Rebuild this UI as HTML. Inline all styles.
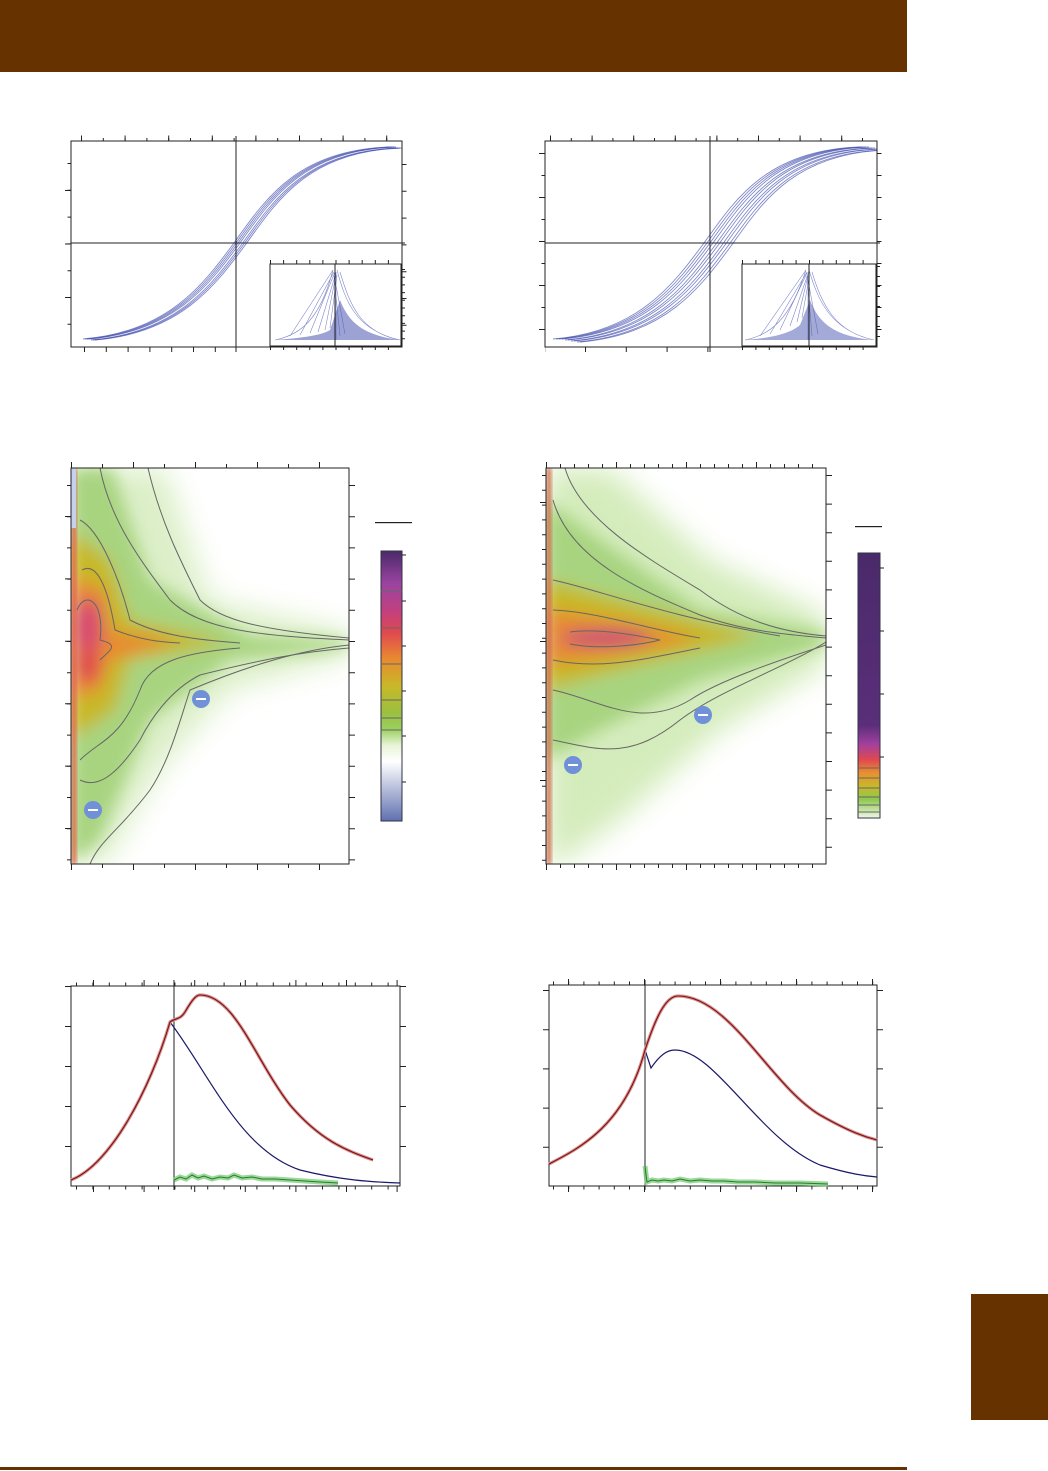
<!DOCTYPE html>
<html><head><meta charset="utf-8"><style>
html,body{margin:0;padding:0;background:#fff}
svg{display:block}
</style></head><body>
<svg width="1048" height="1471" viewBox="0 0 1048 1471" xmlns="http://www.w3.org/2000/svg">
<defs>
<filter id="b8" x="-50%" y="-50%" width="200%" height="200%"><feGaussianBlur stdDeviation="8"/></filter>
<filter id="b3" x="-50%" y="-50%" width="200%" height="200%"><feGaussianBlur stdDeviation="2"/></filter>
<filter id="b14" x="-50%" y="-50%" width="200%" height="200%"><feGaussianBlur stdDeviation="14"/></filter>
<linearGradient id="cb1" x1="0" y1="0" x2="0" y2="1">
<stop offset="0" stop-color="#4a2a6a"/><stop offset="0.12" stop-color="#9a44a0"/><stop offset="0.22" stop-color="#c04080"/><stop offset="0.3" stop-color="#e04850"/><stop offset="0.4" stop-color="#e88a30"/><stop offset="0.5" stop-color="#c8b828"/><stop offset="0.6" stop-color="#9ac040"/><stop offset="0.66" stop-color="#9ad060"/><stop offset="0.72" stop-color="#e8f4d8"/><stop offset="0.78" stop-color="#ffffff"/><stop offset="1" stop-color="#6070b0"/></linearGradient>
<linearGradient id="cb2" x1="0" y1="0" x2="0" y2="1">
<stop offset="0" stop-color="#4a2a6a"/><stop offset="0.65" stop-color="#5a2e7a"/><stop offset="0.72" stop-color="#a040a0"/><stop offset="0.78" stop-color="#e04850"/><stop offset="0.83" stop-color="#e89030"/><stop offset="0.88" stop-color="#c8b828"/><stop offset="0.93" stop-color="#90c850"/><stop offset="1" stop-color="#eef6e4"/></linearGradient>
<clipPath id="h1"><rect x="71" y="468" width="278" height="396"/></clipPath>
<clipPath id="h2"><rect x="546" y="468" width="280" height="396"/></clipPath>
<clipPath id="t1"><rect x="71" y="141" width="331" height="206"/></clipPath>
<clipPath id="t2"><rect x="545" y="141" width="332" height="206"/></clipPath>
<clipPath id="i1"><rect x="270" y="264" width="131" height="82"/></clipPath>
<clipPath id="i2"><rect x="742" y="264" width="134" height="82"/></clipPath>
<path id="sig" d="M85,339 C170,332 205,285 236,243 C268,198 300,150 392,147" fill="none" stroke="#4a55b0" stroke-width="0.9" stroke-opacity="0.7"/>
</defs>
<rect x="0" y="0" width="907" height="72" fill="#663300"/>
<rect x="971" y="1294" width="77" height="126" fill="#663300"/>
<rect x="0" y="1467" width="907" height="3" fill="#663300"/>

<!-- ===== top left ===== -->
<g clip-path="url(#t1)">
<use href="#sig"/><use href="#sig" transform="translate(2,0)"/><use href="#sig" transform="translate(4,0)"/><use href="#sig" transform="translate(6,1)"/><use href="#sig" transform="translate(8,1)"/><use href="#sig" transform="translate(10,1)"/><use href="#sig" transform="translate(-2,0)"/>
</g>
<rect x="71" y="141" width="331" height="206" fill="none" stroke="#222"/>
<line x1="236" y1="136" x2="236" y2="352" stroke="#222"/>
<line x1="71" y1="243" x2="405" y2="243" stroke="#222"/>
<g stroke="#222" fill="none">
<line x1="71" y1="138" x2="402" y2="138" stroke-width="5" stroke-dasharray="1 42.6" stroke-dashoffset="-10"/>
<line x1="71" y1="139.5" x2="402" y2="139.5" stroke-width="3" stroke-dasharray="1 20.8" stroke-dashoffset="-10"/>
<line x1="71" y1="349.5" x2="236" y2="349.5" stroke-width="5" stroke-dasharray="1 20.8" stroke-dashoffset="-13"/>
<line x1="68" y1="141" x2="68" y2="347" stroke-width="6" stroke-dasharray="1 52.5" stroke-dashoffset="-49"/>
<line x1="69" y1="141" x2="69" y2="347" stroke-width="3" stroke-dasharray="1 25.8" stroke-dashoffset="-22"/>
<line x1="404" y1="141" x2="404" y2="347" stroke-width="5" stroke-dasharray="1 25.8" stroke-dashoffset="-23"/>
</g>
<rect x="270" y="264" width="131" height="82" fill="#fff" stroke="#222"/>
<g clip-path="url(#i1)" stroke="#4a55b0" fill="none" stroke-width="0.6" stroke-opacity="0.7">
<path d="M275,340 C300,338 320,336 330,330 L340,300 C348,320 360,335 400,340Z" fill="#4a55b0" fill-opacity="0.55" stroke="none"/>
<path d="M333,270 L290,336 M334,272 L300,335 M335,272 L310,333 M336,273 L318,332 M336,275 L325,330 M337,275 L330,328 M337,270 C345,300 355,330 400,340 M340,272 C350,305 360,332 400,340 M275,340 C300,335 320,320 333,270"/>
<path d="M336,272 L336,340 M334,276 L340,336 M335,280 L345,334"/>
</g>
<line x1="335" y1="264" x2="335" y2="346" stroke="#222"/>
<g stroke="#222">
<line x1="270" y1="262" x2="401" y2="262" stroke-width="4" stroke-dasharray="1 12.1"/>
<line x1="270" y1="348" x2="401" y2="348" stroke-width="4" stroke-dasharray="1 12.1"/>
<line x1="403" y1="264" x2="403" y2="346" stroke-width="4" stroke-dasharray="1 6.7" stroke-dashoffset="-5"/>
</g>

<!-- ===== top right ===== -->
<g clip-path="url(#t2)"><g transform="translate(474,0)">
<use href="#sig"/><use href="#sig" transform="translate(3,0)"/><use href="#sig" transform="translate(6,1)"/><use href="#sig" transform="translate(9,1)"/><use href="#sig" transform="translate(12,2)"/><use href="#sig" transform="translate(15,2)"/><use href="#sig" transform="translate(18,3)"/><use href="#sig" transform="translate(21,3)"/><use href="#sig" transform="translate(-3,0)"/><use href="#sig" transform="translate(-6,0)"/>
</g></g>
<rect x="545" y="141" width="332" height="206" fill="none" stroke="#222"/>
<line x1="710" y1="136" x2="710" y2="352" stroke="#222"/>
<line x1="545" y1="243" x2="880" y2="243" stroke="#222"/>
<g stroke="#222" fill="none">
<line x1="545" y1="138" x2="877" y2="138" stroke-width="5" stroke-dasharray="1 40.6" stroke-dashoffset="-5"/>
<line x1="545" y1="139.5" x2="877" y2="139.5" stroke-width="3" stroke-dasharray="1 19.8" stroke-dashoffset="-5"/>
<line x1="545" y1="349.5" x2="710" y2="349.5" stroke-width="5" stroke-dasharray="1 39.8" stroke-dashoffset="-40"/>
<line x1="542" y1="141" x2="542" y2="347" stroke-width="6" stroke-dasharray="1 43" stroke-dashoffset="-12"/>
<line x1="543" y1="141" x2="543" y2="347" stroke-width="3" stroke-dasharray="1 21" stroke-dashoffset="-12"/>
<line x1="879" y1="141" x2="879" y2="347" stroke-width="5" stroke-dasharray="1 21" stroke-dashoffset="-12"/>
</g>
<rect x="742" y="264" width="134" height="82" fill="#fff" stroke="#222"/>
<g clip-path="url(#i2)" stroke="#4a55b0" fill="none" stroke-width="0.6" stroke-opacity="0.7">
<path d="M745,340 C770,338 790,334 800,325 L810,300 C818,320 830,336 874,340Z" fill="#4a55b0" fill-opacity="0.5" stroke="none"/>
<path d="M806,270 L760,336 M807,272 L770,334 M807,273 L780,330 M808,274 L790,326 M808,276 L797,322 M809,278 L802,318 M809,270 C818,300 830,330 874,340 M812,272 C822,305 835,332 874,340 M745,340 C770,335 790,320 806,270"/>
<path d="M808,272 L808,340 M807,276 L812,336 M808,280 L818,334"/>
</g>
<line x1="809" y1="264" x2="809" y2="346" stroke="#222"/>
<g stroke="#222">
<line x1="742" y1="262" x2="876" y2="262" stroke-width="4" stroke-dasharray="1 12.4"/>
<line x1="742" y1="348" x2="876" y2="348" stroke-width="4" stroke-dasharray="1 12.4"/>
<line x1="878" y1="264" x2="878" y2="346" stroke-width="4" stroke-dasharray="1 9" stroke-dashoffset="-2"/>
</g>

<!-- ===== heatmap left ===== -->
<g clip-path="url(#h1)">
<rect x="71" y="468" width="278" height="396" fill="#fff"/>
<g filter="url(#b14)">
<path d="M71,468 L165,468 L210,600 L349,632 L349,656 L230,690 L160,770 L105,864 L71,864Z" fill="#dcefc8"/>
</g>
<g filter="url(#b8)">
<path d="M71,468 L112,468 L150,580 L250,636 L349,640 L349,648 L230,660 L150,720 L100,840 L71,864Z" fill="#a8d480"/>
<path d="M71,530 L110,560 L130,620 L230,642 L130,660 L115,710 L71,740Z" fill="#c8b828"/>
<path d="M71,575 L105,590 L110,630 L180,642 L110,660 L100,690 L71,700Z" fill="#e88a30"/>
<ellipse cx="88" cy="628" rx="14" ry="30" fill="#d84a70"/>
<ellipse cx="88" cy="665" rx="12" ry="18" fill="#e04850"/>
</g>
<rect x="72" y="468" width="4" height="396" fill="#e05a40" filter="url(#b3)"/>
<rect x="71" y="468" width="5" height="60" fill="#c8d0f0"/>
<g fill="none" stroke="#666" stroke-width="1">
<path d="M148,468 C160,520 180,560 200,600 C220,620 260,630 349,638"/>
<path d="M100,468 C110,520 140,560 170,600 C200,630 260,636 349,640"/>
<path d="M80,520 C100,530 120,580 130,620 C160,636 200,640 240,643"/>
<path d="M82,570 C100,560 110,600 115,630 C140,640 160,642 180,643"/>
<path d="M77,610 C85,590 105,600 100,640 C120,645 110,650 100,660"/>
<path d="M349,648 C300,652 260,660 200,675 C170,690 150,720 140,740 C120,770 100,790 80,780"/>
<path d="M349,645 C300,650 250,665 190,690 C180,720 170,760 150,790 C120,830 100,840 90,864"/>
<path d="M240,648 C190,652 150,660 140,690 C120,740 100,740 80,760"/>
</g>
</g>
<rect x="71" y="468" width="278" height="396" fill="none" stroke="#222"/>
<g stroke="#222">
<line x1="71" y1="465" x2="349" y2="465" stroke-width="6" stroke-dasharray="1 61"/>
<line x1="71" y1="466" x2="349" y2="466" stroke-width="4" stroke-dasharray="1 30"/>
<line x1="71" y1="867" x2="349" y2="867" stroke-width="6" stroke-dasharray="1 61"/>
<line x1="71" y1="866" x2="349" y2="866" stroke-width="4" stroke-dasharray="1 30"/>
<line x1="68" y1="468" x2="68" y2="864" stroke-width="6" stroke-dasharray="1 61.4" stroke-dashoffset="-48"/>
<line x1="69" y1="468" x2="69" y2="864" stroke-width="4" stroke-dasharray="1 30.2" stroke-dashoffset="-17"/>
<line x1="352" y1="468" x2="352" y2="864" stroke-width="6" stroke-dasharray="1 30.2" stroke-dashoffset="-17"/>
</g>
<circle cx="201" cy="699" r="9" fill="#7090d8"/><rect x="196" y="698" width="10" height="2" fill="#fff"/>
<circle cx="93" cy="810" r="9" fill="#7090d8"/><rect x="88" y="809" width="10" height="2" fill="#fff"/>
<rect x="375" y="522" width="37" height="1.2" fill="#222"/>
<rect x="381" y="551" width="21" height="270" fill="url(#cb1)" stroke="#334"/>
<g stroke="#666"><line x1="381" y1="591" x2="402" y2="591"/><line x1="381" y1="628" x2="402" y2="628"/><line x1="381" y1="664" x2="402" y2="664"/><line x1="381" y1="700" x2="402" y2="700"/><line x1="381" y1="718" x2="402" y2="718"/><line x1="381" y1="730" x2="402" y2="730"/></g>
<g stroke="#222"><line x1="402" y1="555" x2="406" y2="555"/><line x1="402" y1="601" x2="406" y2="601"/><line x1="402" y1="646" x2="406" y2="646"/><line x1="402" y1="691" x2="406" y2="691"/><line x1="402" y1="736" x2="406" y2="736"/><line x1="402" y1="782" x2="406" y2="782"/></g>

<!-- ===== heatmap right ===== -->
<g clip-path="url(#h2)">
<rect x="546" y="468" width="280" height="396" fill="#fff"/>
<g filter="url(#b14)">
<path d="M546,468 L610,468 L710,560 L826,615 L826,665 L720,730 L620,820 L560,864 L546,864Z" fill="#d4ecbc"/>
</g>
<g filter="url(#b8)">
<path d="M546,500 L600,540 L700,610 L826,632 L826,645 L700,680 L600,730 L546,760Z" fill="#a8d480"/>
<path d="M546,580 L620,600 L760,636 L620,670 L546,690Z" fill="#c8b828"/>
<path d="M546,610 L620,620 L700,638 L620,655 L546,665Z" fill="#e88a30"/>
<ellipse cx="605" cy="638" rx="45" ry="8" fill="#c84878"/>
</g>
<rect x="547" y="468" width="4" height="396" fill="#d06040" filter="url(#b3)"/>
<g fill="none" stroke="#666" stroke-width="1">
<path d="M565,468 C580,520 650,560 700,590 C740,620 780,632 826,636"/>
<path d="M553,500 C570,560 640,590 700,615 C740,630 780,634 826,638"/>
<path d="M553,580 C600,590 660,615 780,636"/>
<path d="M553,610 C600,612 650,630 700,638"/>
<path d="M570,632 C600,628 640,636 660,640 C640,645 600,650 570,644"/>
<path d="M553,660 C600,670 640,660 700,648"/>
<path d="M553,690 C600,700 640,730 690,700 C720,680 780,660 826,645"/>
<path d="M553,740 C600,750 630,760 680,720 C720,690 780,670 826,642"/>
</g>
</g>
<rect x="546" y="468" width="280" height="396" fill="none" stroke="#222"/>
<g stroke="#222">
<line x1="546" y1="465" x2="826" y2="465" stroke-width="6" stroke-dasharray="1 69"/>
<line x1="546" y1="466" x2="826" y2="466" stroke-width="4" stroke-dasharray="1 13"/>
<line x1="546" y1="867" x2="826" y2="867" stroke-width="6" stroke-dasharray="1 69"/>
<line x1="546" y1="866" x2="826" y2="866" stroke-width="4" stroke-dasharray="1 13"/>
<line x1="543" y1="468" x2="543" y2="864" stroke-width="6" stroke-dasharray="1 138" stroke-dashoffset="-34"/>
<line x1="544" y1="468" x2="544" y2="864" stroke-width="4" stroke-dasharray="1 13.8" stroke-dashoffset="-7"/>
<line x1="829" y1="468" x2="829" y2="864" stroke-width="6" stroke-dasharray="1 27.6" stroke-dashoffset="-7"/>
</g>
<circle cx="703" cy="715" r="9" fill="#7090d8"/><rect x="698" y="714" width="10" height="2" fill="#fff"/>
<circle cx="573" cy="765" r="9" fill="#7090d8"/><rect x="568" y="764" width="10" height="2" fill="#fff"/>
<rect x="855" y="526" width="27" height="1.2" fill="#222"/>
<rect x="858" y="553" width="22" height="265" fill="url(#cb2)" stroke="#334"/>
<g stroke="#666"><line x1="858" y1="768" x2="880" y2="768"/><line x1="858" y1="778" x2="880" y2="778"/><line x1="858" y1="788" x2="880" y2="788"/><line x1="858" y1="797" x2="880" y2="797"/><line x1="858" y1="805" x2="880" y2="805"/><line x1="858" y1="812" x2="880" y2="812"/></g>
<g stroke="#222"><line x1="880" y1="568" x2="884" y2="568"/><line x1="880" y1="631" x2="884" y2="631"/><line x1="880" y1="694" x2="884" y2="694"/><line x1="880" y1="757" x2="884" y2="757"/></g>

<!-- ===== bottom left ===== -->
<rect x="71" y="986" width="329" height="200" fill="none" stroke="#222"/>
<line x1="174" y1="980" x2="174" y2="1190" stroke="#222"/>
<g stroke="#222">
<line x1="71" y1="983" x2="400" y2="983" stroke-width="6" stroke-dasharray="1 49.6" stroke-dashoffset="-22"/>
<line x1="71" y1="984" x2="400" y2="984" stroke-width="3" stroke-dasharray="1 15.4" stroke-dashoffset="-5"/>
<line x1="71" y1="1189" x2="400" y2="1189" stroke-width="6" stroke-dasharray="1 49.6" stroke-dashoffset="-22"/>
<line x1="71" y1="1188" x2="400" y2="1188" stroke-width="3" stroke-dasharray="1 15.4" stroke-dashoffset="-5"/>
<line x1="68" y1="986" x2="68" y2="1186" stroke-width="6" stroke-dasharray="1 39"/>
<line x1="403" y1="986" x2="403" y2="1186" stroke-width="6" stroke-dasharray="1 39"/>
</g>
<g fill="none">
<path d="M174,1180 L180,1177 L186,1179 L192,1175 L198,1178 L204,1176 L212,1179 L220,1177 L228,1178 L234,1175 L242,1178 L252,1177 L262,1179 L275,1179 L290,1180 L305,1181 L320,1182 L338,1183" stroke="#80d080" stroke-width="5" stroke-opacity="0.8"/>
<path d="M174,1180 L180,1177 L186,1179 L192,1175 L198,1178 L204,1176 L212,1179 L220,1177 L228,1178 L234,1175 L242,1178 L252,1177 L262,1179 L275,1179 L290,1180 L305,1181 L320,1182 L338,1183" stroke="#2a7a2a" stroke-width="1"/>
<path d="M71,1180 C110,1165 150,1090 170,1022 C210,1075 240,1150 300,1170 C340,1180 370,1182 400,1183" stroke="#1a1a6a" stroke-width="1.2"/>
<path d="M71,1180 C110,1165 150,1090 170,1022 C175,1018 180,1020 185,1012 C192,1000 196,995 200,995 C235,995 255,1060 290,1105 C320,1140 345,1150 373,1160" stroke="#d89090" stroke-width="3.2"/>
<path d="M71,1180 C110,1165 150,1090 170,1022 C175,1018 180,1020 185,1012 C192,1000 196,995 200,995 C235,995 255,1060 290,1105 C320,1140 345,1150 373,1160" stroke="#7a1010" stroke-width="1.1"/>
</g>

<!-- ===== bottom right ===== -->
<rect x="549" y="985" width="328" height="201" fill="none" stroke="#222"/>
<line x1="645" y1="980" x2="645" y2="1190" stroke="#222"/>
<g stroke="#222">
<line x1="549" y1="982" x2="877" y2="982" stroke-width="6" stroke-dasharray="1 75" stroke-dashoffset="-19"/>
<line x1="549" y1="983" x2="877" y2="983" stroke-width="3" stroke-dasharray="1 14.2" stroke-dashoffset="-4"/>
<line x1="549" y1="1189" x2="877" y2="1189" stroke-width="6" stroke-dasharray="1 75" stroke-dashoffset="-19"/>
<line x1="549" y1="1188" x2="877" y2="1188" stroke-width="3" stroke-dasharray="1 14.2" stroke-dashoffset="-4"/>
<line x1="546" y1="985" x2="546" y2="1186" stroke-width="6" stroke-dasharray="1 38.2" stroke-dashoffset="-5"/>
<line x1="880" y1="985" x2="880" y2="1186" stroke-width="6" stroke-dasharray="1 38.2" stroke-dashoffset="-5"/>
</g>
<g fill="none">
<path d="M645,1166 L647,1182 L652,1180 L658,1181 L664,1180 L672,1181 L680,1179 L690,1181 L700,1180 L712,1181 L724,1181 L738,1182 L755,1182 L775,1183 L800,1183 L828,1184" stroke="#80d080" stroke-width="5" stroke-opacity="0.8"/>
<path d="M645,1166 L647,1182 L652,1180 L658,1181 L664,1180 L672,1181 L680,1179 L690,1181 L700,1180 L712,1181 L724,1181 L738,1182 L755,1182 L775,1183 L800,1183 L828,1184" stroke="#2a7a2a" stroke-width="1"/>
<path d="M549,1164 C580,1148 625,1125 645,1050 L651,1068 C660,1055 667,1050 675,1050 C715,1050 760,1140 820,1165 C850,1174 865,1176 877,1177" stroke="#1a1a6a" stroke-width="1.2"/>
<path d="M549,1164 C580,1148 625,1125 645,1050 C655,1020 665,996 678,996 C730,996 770,1085 820,1115 C850,1132 865,1137 877,1140" stroke="#d89090" stroke-width="3.2"/>
<path d="M549,1164 C580,1148 625,1125 645,1050 C655,1020 665,996 678,996 C730,996 770,1085 820,1115 C850,1132 865,1137 877,1140" stroke="#7a1010" stroke-width="1.1"/>
</g>
</svg>
</body></html>
